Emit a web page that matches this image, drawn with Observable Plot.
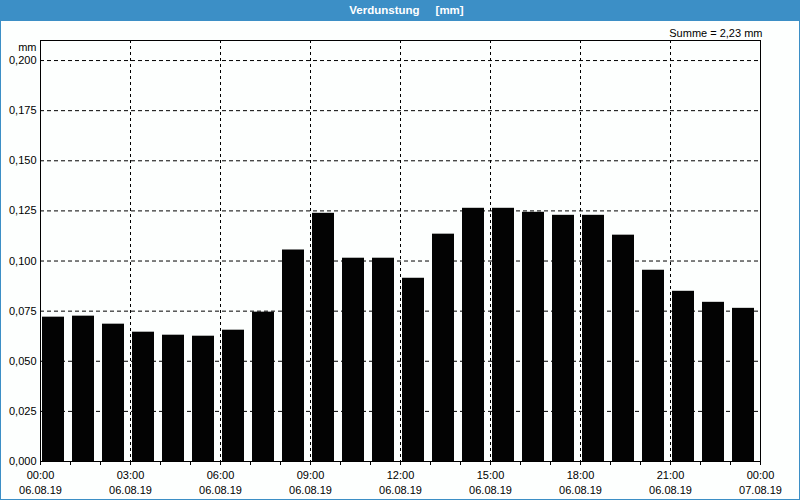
<!DOCTYPE html>
<html>
<head>
<meta charset="utf-8">
<script src="https://cdn.jsdelivr.net/npm/d3@7"></script>
<script src="https://cdn.jsdelivr.net/npm/@observablehq/plot@0.6"></script>
<style>
  html, body { margin: 0; padding: 0; background: #fff; }
  #win { position: relative; width: 800px; height: 500px; overflow: hidden; background: #fdfffe; font-family: "Liberation Sans", Arial, sans-serif; }
  #title { position: absolute; left: 0; top: 0; width: 800px; height: 21px; background: #3c8fc6; color: #fff;
           font-weight: bold; font-size: 11.5px; line-height: 21px; text-align: center; white-space: pre; box-sizing: border-box; padding-left: 13px; }
  #chart { position: absolute; left: 0; top: 21px; }
  .bl { position: absolute; background: #3c8fc6; }
</style>
</head>
<body>
<div id="win">
  <div id="title">Verdunstung     [mm]</div>
  <div id="chart"></div>
  <div class="bl" style="left:0;top:0;width:1px;height:500px"></div>
  <div class="bl" style="right:0;top:0;width:1px;height:500px"></div>
  <div class="bl" style="left:0;bottom:0;width:800px;height:1px"></div>
</div>
<script>
// Hourly bins (start hour of each bar), 06.08.19
const hours = [0,1,2,3,4,5,6,7,8,9,10,11,12,13,14,15,16,17,18,19,20,21,22,23];
// Evaporation per hour [mm]
const values = [0.072,0.0725,0.0685,0.0645,0.063,0.0625,0.0655,0.0745,0.1055,0.1238,0.1014,0.1014,0.0914,0.1134,0.1263,0.1263,0.1243,0.1228,0.1228,0.1129,0.0954,0.0849,0.0794,0.0764];
// Axis ticks and labels
const yTicks = [0,0.025,0.05,0.075,0.1,0.125,0.15,0.175,0.2];
const hourTicks = [0,1,2,3,4,5,6,7,8,9,10,11,12,13,14,15,16,17,18,19,20,21,22,23,24];
const xMajor = [0,3,6,9,12,15,18,21,24];
const timeLabels = ["00:00","03:00","06:00","09:00","12:00","15:00","18:00","21:00","00:00"];
const dateLabels = ["06.08.19","06.08.19","06.08.19","06.08.19","06.08.19","06.08.19","06.08.19","06.08.19","07.08.19"];
const sumLabel = "Summe = 2,23 mm";
const unitLabel = "mm";

const data = hours.map((h, i) => ({h, v: values[i]}));
const fmtY = d => d3.format(".3f")(d).replace(".", ",");

const chart = Plot.plot({
  width: 800,
  height: 478,
  marginLeft: 40,
  marginRight: 40,
  marginTop: 19,
  marginBottom: 38,
  x: {type: "linear", domain: [0, 24], axis: null},
  y: {domain: [0, 0.21], axis: null},
  style: {fontFamily: "'Liberation Sans', Arial, sans-serif", fontSize: "11px", color: "black", background: "transparent", overflow: "visible"},
  marks: [
    Plot.ruleY(yTicks.filter(d => d > 0), {stroke: "black", strokeDasharray: "4,3"}),
    Plot.ruleX(xMajor.filter(d => d > 0 && d < 24), {stroke: "black", strokeDasharray: "3,3"}),
    Plot.rect(data, {x1: "h", x2: d => d.h + 1, y1: 0, y2: "v", fill: "#030303", insetLeft: 2, insetRight: 6}),
    Plot.frame({stroke: "black"}),
    Plot.axisY(yTicks, {tickSize: 0, tickPadding: 4, tickFormat: fmtY, label: null}),
    Plot.axisX(hourTicks, {tickSize: 4, tickFormat: () => "", label: null}),
    Plot.axisX(xMajor, {tickSize: 0, tickPadding: 10, tickFormat: d => timeLabels[xMajor.indexOf(d)], label: null}),
    Plot.axisX(xMajor, {tickSize: 0, tickPadding: 25, tickFormat: d => dateLabels[xMajor.indexOf(d)], label: null}),
    Plot.text([unitLabel], {frameAnchor: "top-left", textAnchor: "end", lineAnchor: "middle", dx: -4, dy: 6.5}),
    Plot.text([sumLabel], {frameAnchor: "top-right", textAnchor: "end", lineAnchor: "middle", dx: 2, dy: -7})
  ]
});
document.getElementById("chart").appendChild(chart);
</script>
</body>
</html>
